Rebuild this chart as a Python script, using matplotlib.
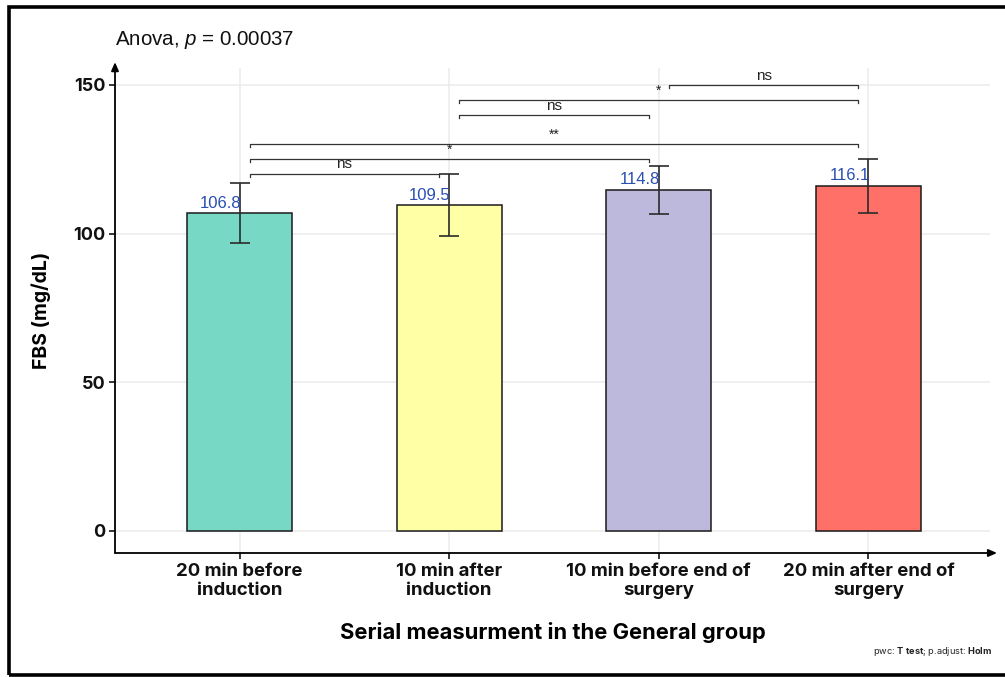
import matplotlib
matplotlib.use("Agg")
import matplotlib.pyplot as plt

# Data
categories = ["20 min before\ninduction", "10 min after\ninduction",
              "10 min before end of\nsurgery", "20 min after end of\nsurgery"]
means = [106.8, 109.5, 114.8, 116.1]
sds = [10.1, 10.4, 8.1, 9.0]
bar_colors = ["#77d8c6", "#ffffa6", "#bdb9dc", "#ff7068"]

# Pairwise comparisons: (group i, group j, bracket height, label)
pairs_i = [1, 1, 1, 2, 2, 3]
pairs_j = [2, 3, 4, 3, 4, 4]
pairs_y = [120.2, 125.1, 130.1, 139.9, 145.0, 150.1]
pairs_lab = ["ns", "*", "**", "ns", "*", "ns"]

yticks = [0, 50, 100, 150]

plt.rcParams["mathtext.fontset"] = "custom"
plt.rcParams["mathtext.rm"] = "Inter"
plt.rcParams["mathtext.bf"] = "Inter:bold"
plt.rcParams["mathtext.it"] = "Liberation Sans:italic"

W, H = 1005, 677
fig = plt.figure(figsize=(W / 100, H / 100), dpi=100)

# Axes placed in pixel terms
left, right, bottom, top = 115, 990, 553, 68
ax = fig.add_axes([left / W, 1 - bottom / H, (right - left) / W, (bottom - top) / H])

x = list(range(1, len(means) + 1))
ax.set_xlim(0.406, 4.58)
ax.set_ylim(-7.4, 155.7)

# Grid
for yv in yticks:
    ax.axhline(yv, color="#ebebeb", lw=1.1, zorder=0)
for xv in x:
    ax.axvline(xv, color="#ebebeb", lw=1.1, zorder=0)

# Bars
ax.bar(x, means, width=0.5, color=bar_colors, edgecolor="#1a1a1a", linewidth=1.1, zorder=2)
ax.errorbar(x, means, yerr=sds, fmt="none", ecolor="#2b2b2b", elinewidth=1.2,
            capsize=7.2, capthick=1.2, zorder=3)

# Value labels
for xi, m in zip(x, means):
    ax.annotate(f"{m:.1f}", (xi, m), xytext=(1, 2), textcoords="offset points",
                ha="right", va="bottom", fontsize=12, color="#2a4fb3",
                family="Liberation Sans", zorder=4)

# Significance brackets
shorten = 0.048
tip = 1.0
for i, j, yb, lab in zip(pairs_i, pairs_j, pairs_y, pairs_lab):
    x0, x1 = i + shorten, j - shorten
    ax.plot([x0, x0, x1, x1], [yb - tip, yb, yb, yb - tip], color="#333333",
            lw=0.9, zorder=4, clip_on=False)
    ax.annotate(lab, ((i + j) / 2, yb), xytext=(0, 1.5), textcoords="offset points",
                ha="center", va="bottom", fontsize=11 if lab == "ns" else 10,
                family="Liberation Sans", color="#222222", zorder=5, annotation_clip=False)

# Axes lines with arrows
for s in ax.spines.values():
    s.set_visible(False)
ax.annotate("", xy=(0, 1.012), xytext=(0, 0), xycoords="axes fraction",
            arrowprops=dict(arrowstyle="-|>,head_length=0.5,head_width=0.22",
                            color="black", lw=1.3, shrinkA=0, shrinkB=0))
ax.annotate("", xy=(1.008, 0), xytext=(0, 0), xycoords="axes fraction",
            arrowprops=dict(arrowstyle="-|>,head_length=0.5,head_width=0.22",
                            color="black", lw=1.3, shrinkA=0, shrinkB=0))

ax.set_xticks(x)
ax.set_xticklabels(categories, fontsize=13.4, fontweight="bold", family="Inter",
                   linespacing=1.2)
ax.set_yticks(yticks)
ax.set_yticklabels([str(v) for v in yticks], fontsize=13, fontweight="bold", family="Inter")
ax.tick_params(axis="both", length=4, width=1.1, color="black", pad=3, labelcolor="#111111")

ax.set_ylabel("FBS (mg/dL)", fontsize=14, fontweight="bold", family="Inter", labelpad=16)
ax.set_xlabel("Serial measurment in the General group", fontsize=15.8, fontweight="bold",
              family="Inter", labelpad=16)

# Title and caption
fig.text(left / W, 1 - 45 / H, "Anova, $p$ = 0.00037", fontsize=14.8,
         family="Liberation Sans", ha="left", va="baseline", color="#111111")
fig.text(992 / W, 1 - 654 / H, r"pwc: $\mathbf{T\ test}$; p.adjust: $\mathbf{Holm}$",
         fontsize=6.6, family="Inter", ha="right", va="baseline", color="#222222")

# Frame around the figure
frame = plt.Rectangle((8.5 / W, 1 - 675 / H), 1.2, (675 - 7) / H, transform=fig.transFigure,
                      fill=False, edgecolor="black", lw=2.6, clip_on=False)
fig.add_artist(frame)

fig.savefig("out.png", dpi=100)
